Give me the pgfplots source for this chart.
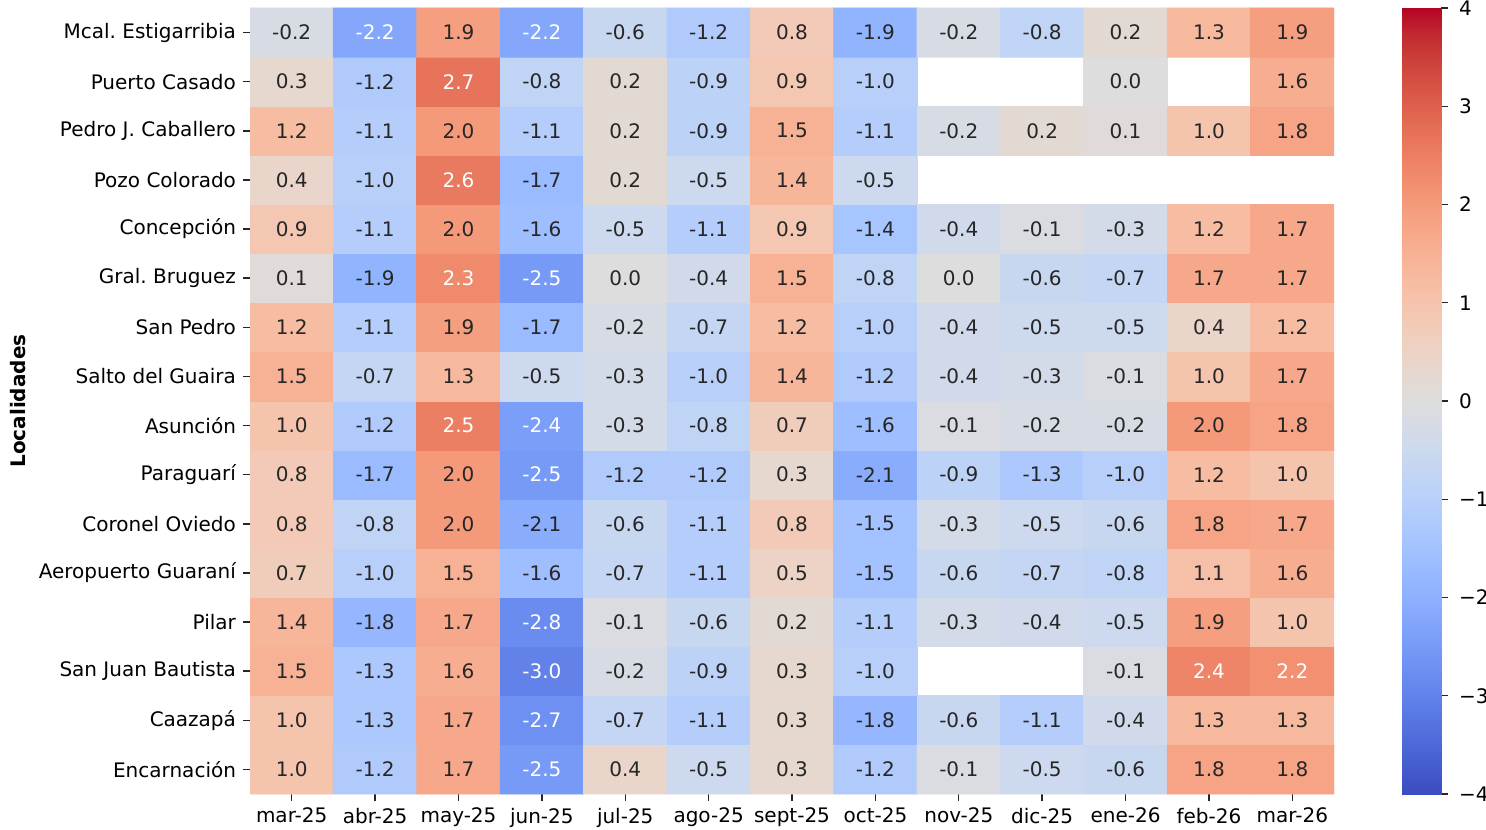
\documentclass[border=0pt]{standalone}
\usepackage{pgfplots}
\usepackage{pgfplotstable}
\usepackage{fontspec}
\setmainfont{DejaVu Sans}
\pgfplotsset{compat=1.18}
\definecolor{tk}{HTML}{262626}
\frenchspacing

\pgfplotstableread{
x y v w
0 0 1.0 0
1 0 -1.2 0
2 0 1.7 0
3 0 -2.5 1
4 0 0.4 0
5 0 -0.5 0
6 0 0.3 0
7 0 -1.2 0
8 0 -0.1 0
9 0 -0.5 0
10 0 -0.6 0
11 0 1.8 0
12 0 1.8 0
0 1 1.0 0
1 1 -1.3 0
2 1 1.7 0
3 1 -2.7 1
4 1 -0.7 0
5 1 -1.1 0
6 1 0.3 0
7 1 -1.8 0
8 1 -0.6 0
9 1 -1.1 0
10 1 -0.4 0
11 1 1.3 0
12 1 1.3 0
0 2 1.5 0
1 2 -1.3 0
2 2 1.6 0
3 2 -3.0 1
4 2 -0.2 0
5 2 -0.9 0
6 2 0.3 0
7 2 -1.0 0
8 2 nan 2
9 2 nan 2
10 2 -0.1 0
11 2 2.4 1
12 2 2.2 1
0 3 1.4 0
1 3 -1.8 0
2 3 1.7 0
3 3 -2.8 1
4 3 -0.1 0
5 3 -0.6 0
6 3 0.2 0
7 3 -1.1 0
8 3 -0.3 0
9 3 -0.4 0
10 3 -0.5 0
11 3 1.9 0
12 3 1.0 0
0 4 0.7 0
1 4 -1.0 0
2 4 1.5 0
3 4 -1.6 0
4 4 -0.7 0
5 4 -1.1 0
6 4 0.5 0
7 4 -1.5 0
8 4 -0.6 0
9 4 -0.7 0
10 4 -0.8 0
11 4 1.1 0
12 4 1.6 0
0 5 0.8 0
1 5 -0.8 0
2 5 2.0 0
3 5 -2.1 0
4 5 -0.6 0
5 5 -1.1 0
6 5 0.8 0
7 5 -1.5 0
8 5 -0.3 0
9 5 -0.5 0
10 5 -0.6 0
11 5 1.8 0
12 5 1.7 0
0 6 0.8 0
1 6 -1.7 0
2 6 2.0 0
3 6 -2.5 1
4 6 -1.2 0
5 6 -1.2 0
6 6 0.3 0
7 6 -2.1 0
8 6 -0.9 0
9 6 -1.3 0
10 6 -1.0 0
11 6 1.2 0
12 6 1.0 0
0 7 1.0 0
1 7 -1.2 0
2 7 2.5 1
3 7 -2.4 1
4 7 -0.3 0
5 7 -0.8 0
6 7 0.7 0
7 7 -1.6 0
8 7 -0.1 0
9 7 -0.2 0
10 7 -0.2 0
11 7 2.0 0
12 7 1.8 0
0 8 1.5 0
1 8 -0.7 0
2 8 1.3 0
3 8 -0.5 0
4 8 -0.3 0
5 8 -1.0 0
6 8 1.4 0
7 8 -1.2 0
8 8 -0.4 0
9 8 -0.3 0
10 8 -0.1 0
11 8 1.0 0
12 8 1.7 0
0 9 1.2 0
1 9 -1.1 0
2 9 1.9 0
3 9 -1.7 0
4 9 -0.2 0
5 9 -0.7 0
6 9 1.2 0
7 9 -1.0 0
8 9 -0.4 0
9 9 -0.5 0
10 9 -0.5 0
11 9 0.4 0
12 9 1.2 0
0 10 0.1 0
1 10 -1.9 0
2 10 2.3 1
3 10 -2.5 1
4 10 0.0 0
5 10 -0.4 0
6 10 1.5 0
7 10 -0.8 0
8 10 0.0 0
9 10 -0.6 0
10 10 -0.7 0
11 10 1.7 0
12 10 1.7 0
0 11 0.9 0
1 11 -1.1 0
2 11 2.0 0
3 11 -1.6 0
4 11 -0.5 0
5 11 -1.1 0
6 11 0.9 0
7 11 -1.4 0
8 11 -0.4 0
9 11 -0.1 0
10 11 -0.3 0
11 11 1.2 0
12 11 1.7 0
0 12 0.4 0
1 12 -1.0 0
2 12 2.6 1
3 12 -1.7 0
4 12 0.2 0
5 12 -0.5 0
6 12 1.4 0
7 12 -0.5 0
8 12 nan 2
9 12 nan 2
10 12 nan 2
11 12 nan 2
12 12 nan 2
0 13 1.2 0
1 13 -1.1 0
2 13 2.0 0
3 13 -1.1 0
4 13 0.2 0
5 13 -0.9 0
6 13 1.5 0
7 13 -1.1 0
8 13 -0.2 0
9 13 0.2 0
10 13 0.1 0
11 13 1.0 0
12 13 1.8 0
0 14 0.3 0
1 14 -1.2 0
2 14 2.7 1
3 14 -0.8 0
4 14 0.2 0
5 14 -0.9 0
6 14 0.9 0
7 14 -1.0 0
8 14 nan 2
9 14 nan 2
10 14 0.0 0
11 14 nan 2
12 14 1.6 0
0 15 -0.2 0
1 15 -2.2 1
2 15 1.9 0
3 15 -2.2 1
4 15 -0.6 0
5 15 -1.2 0
6 15 0.8 0
7 15 -1.9 0
8 15 -0.2 0
9 15 -0.8 0
10 15 0.2 0
11 15 1.3 0
12 15 1.9 0
}\heat

% colour scale: the four corners of the bar, meta = value
\pgfplotstableread{
x y
0 -4
1 -4
0 4
1 4
}\scale

\pgfplotsset{
  colormap={coolwarm}{
    rgb255(0)=(59,76,192) rgb255(1)=(68,90,204) rgb255(2)=(77,104,215)
    rgb255(3)=(87,117,225) rgb255(4)=(98,130,234) rgb255(5)=(108,142,241)
    rgb255(6)=(119,154,247) rgb255(7)=(130,165,251) rgb255(8)=(141,176,254)
    rgb255(9)=(152,185,255) rgb255(10)=(163,194,255) rgb255(11)=(174,201,253)
    rgb255(12)=(184,208,249) rgb255(13)=(194,213,244) rgb255(14)=(204,217,238)
    rgb255(15)=(213,219,230) rgb255(16)=(221,221,221) rgb255(17)=(229,216,209)
    rgb255(18)=(236,211,197) rgb255(19)=(241,204,185) rgb255(20)=(245,196,173)
    rgb255(21)=(247,187,160) rgb255(22)=(247,177,148) rgb255(23)=(247,166,135)
    rgb255(24)=(244,154,123) rgb255(25)=(241,141,111) rgb255(26)=(236,127,99)
    rgb255(27)=(229,112,88) rgb255(28)=(222,96,77) rgb255(29)=(213,80,66)
    rgb255(30)=(203,62,56) rgb255(31)=(192,40,47) rgb255(32)=(180,4,38)
  },
  lbl/.style={only marks, mark=none, point meta=explicit symbolic,
    nodes near coords={\pgfplotspointmeta},
    every node near coord/.append style={text=#1, anchor=center, font=\fontsize{10}{12}\selectfont},
    unbounded coords=discard},
}

\begin{document}
\begin{tikzpicture}
\useasboundingbox (0,0) rectangle (743pt,414.5pt);
\begin{axis}[
  at={(125pt,17.5pt)}, anchor=south west,
  scale only axis, width=542pt, height=393pt,
  xmin=-0.5, xmax=12.5, ymin=-0.5, ymax=15.5,
  enlargelimits=false,
  axis x line*=bottom, axis y line*=left,
  x axis line style={draw=none, -}, y axis line style={draw=none, -},
  xtick={0,...,12}, ytick={0,...,15},
  xticklabels={mar-25,abr-25,may-25,jun-25,jul-25,ago-25,sept-25,oct-25,nov-25,dic-25,ene-26,feb-26,mar-26},
  yticklabels={Encarnación,Caazapá,San Juan Bautista,Pilar,Aeropuerto Guaraní,Coronel Oviedo,Paraguarí,Asunción\ ,Salto del Guaira,San Pedro,Gral. Bruguez,Concepción,Pozo Colorado,Pedro J. Caballero,Puerto Casado,Mcal. Estigarribia},
  xtick align=outside, ytick align=outside,
  major tick length=3.5pt,
  xtick style={draw=tk, line width=0.7pt},
  ytick style={draw=tk, line width=0.7pt},
  ticklabel style={font=\fontsize{10}{12}\selectfont, text=black},
  colormap name=coolwarm,
  point meta min=-4, point meta max=4,
  ylabel={Localidades},
  ylabel style={at={(axis description cs:-0.214,0.5)}, anchor=center, rotate=0, font=\bfseries\fontsize{10}{12}\selectfont},
]
\addplot[matrix plot*, mesh/cols=13, point meta=explicit, unbounded coords=jump]
  table[x=x, y=y, meta=v] {\heat};
\addplot[lbl=tk, restrict expr to domain={\thisrow{w}}{-0.5:0.5}]
  table[x=x, y=y, meta=v] {\heat};
\addplot[lbl=white, restrict expr to domain={\thisrow{w}}{0.5:1.5}]
  table[x=x, y=y, meta=v] {\heat};
\end{axis}
% colour bar
\begin{axis}[
  at={(701pt,17.5pt)}, anchor=south west,
  scale only axis, width=19.5pt, height=393pt,
  xmin=0, xmax=1, ymin=-4, ymax=4,
  enlargelimits=false,
  axis y line*=right, axis x line=none,
  y axis line style={draw=none, -},
  xtick=\empty,
  ytick={-4,-3,-2,-1,0,1,2,3,4},
  yticklabels={−4,−3,−2,−1,0,1,2,3,4},
  ytick align=outside,
  major tick length=3.5pt,
  ytick style={draw=tk, line width=0.7pt},
  yticklabel style={font=\fontsize{10}{12}\selectfont, text=black, anchor=west, xshift=2pt},
  colormap name=coolwarm,
  point meta min=-4, point meta max=4,
]
\addplot[surf, shader=interp, mesh/cols=2, point meta=\thisrow{y}]
  table[x=x, y=y] {\scale};
\end{axis}
\end{tikzpicture}
\end{document}
